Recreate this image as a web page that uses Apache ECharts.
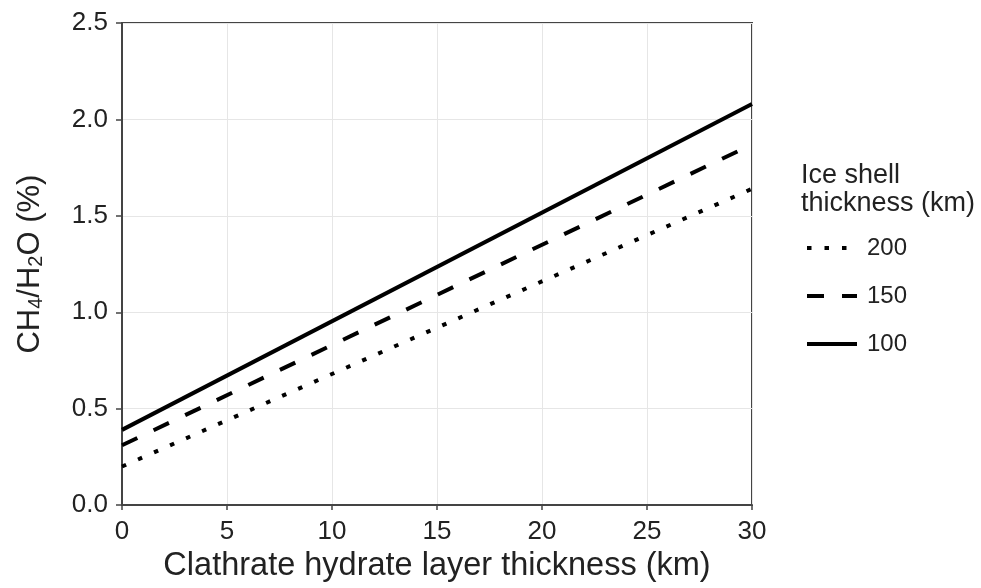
<!DOCTYPE html>
<html>
<head>
<meta charset="utf-8">
<script src="https://cdn.jsdelivr.net/npm/echarts@6/dist/echarts.min.js"></script>
<style>html,body{margin:0;padding:0;background:#fff}#c{width:981px;height:588px}</style>
</head>
<body>
<div id="c"></div>
<script>
const xValues = [0, 30];
const shell200 = [0.20, 1.64];
const shell150 = [0.31, 1.87];
const shell100 = [0.39, 2.08];
const legendNames = ['200', '150', '100'];
const xTicks = [0, 5, 10, 15, 20, 25, 30];
const yTicks = [0.0, 0.5, 1.0, 1.5, 2.0, 2.5];

const FONT = '"Liberation Sans", Arial, sans-serif';
const TXT = '#222';
const pairs = (ys) => xValues.map((x, i) => [x, ys[i]]);

const chart = echarts.init(document.getElementById('c'));
chart.setOption({
  animation: false,
  backgroundColor: '#fff',
  color: ['#000', '#000', '#000'],
  textStyle: { fontFamily: FONT },
  title: {
    text: 'Ice shell\nthickness (km)',
    left: 796, top: 157,
    textStyle: { fontFamily: FONT, fontSize: 27, fontWeight: 'normal', color: TXT, lineHeight: 28 }
  },
  legend: {
    data: legendNames,
    orient: 'vertical',
    left: 800, top: 231,
    itemWidth: 50, itemHeight: 14, itemGap: 24,
    itemStyle: { opacity: 0 },
    lineStyle: { width: 4, color: '#000' },
    textStyle: { fontFamily: FONT, fontSize: 24, color: TXT, padding: [0, 0, 0, 5] }
  },
  grid: {
    left: 122, right: 229, top: 23, bottom: 80,
    show: true, borderColor: '#444', borderWidth: 2, backgroundColor: 'transparent'
  },
  xAxis: {
    type: 'value', min: 0, max: 30, interval: 5,
    name: 'Clathrate hydrate layer thickness (km)',
    nameLocation: 'middle', nameGap: 44,
    nameTextStyle: { fontFamily: FONT, fontSize: 32.5, color: TXT },
    axisLine: { show: true, lineStyle: { color: '#444', width: 2 } },
    axisTick: { show: true, length: 5, lineStyle: { color: '#444', width: 1.5 } },
    axisLabel: { fontFamily: FONT, fontSize: 26, color: TXT, margin: 14,
      formatter: (v) => xTicks.includes(v) ? String(v) : '' },
    splitLine: { show: true, lineStyle: { color: '#e6e6e6', width: 1 } }
  },
  yAxis: {
    type: 'value', min: 0, max: 2.5, interval: 0.5,
    name: '{a|CH}{s|4}{a|/H}{s|2}{a|O (%)}',
    nameLocation: 'middle', nameGap: 76,
    nameTextStyle: {
      rich: {
        a: { fontFamily: FONT, fontSize: 31, color: TXT },
        s: { fontFamily: FONT, fontSize: 20, color: TXT, verticalAlign: 'bottom', padding: [12, 0, 0, 0] }
      }
    },
    axisLine: { show: true, lineStyle: { color: '#444', width: 2 } },
    axisTick: { show: true, length: 6, lineStyle: { color: '#444', width: 1.5 } },
    axisLabel: { fontFamily: FONT, fontSize: 26, color: TXT, margin: 14,
      formatter: (v) => yTicks.some(t => Math.abs(t - v) < 1e-9) ? v.toFixed(1) : '' },
    splitLine: { show: true, lineStyle: { color: '#e6e6e6', width: 1 } }
  },
  series: [
    { name: '200', type: 'line', data: pairs(shell200), showSymbol: false, symbol: 'none',
      itemStyle: { color: '#000' },
      lineStyle: { color: '#000', width: 4, type: [4.5, 13], cap: 'butt' } },
    { name: '150', type: 'line', data: pairs(shell150), showSymbol: false, symbol: 'none',
      itemStyle: { color: '#000' },
      lineStyle: { color: '#000', width: 4, type: [17, 18], cap: 'butt' } },
    { name: '100', type: 'line', data: pairs(shell100), showSymbol: false, symbol: 'none',
      itemStyle: { color: '#000' },
      lineStyle: { color: '#000', width: 4, type: 'solid' } }
  ]
});
</script>
</body>
</html>
